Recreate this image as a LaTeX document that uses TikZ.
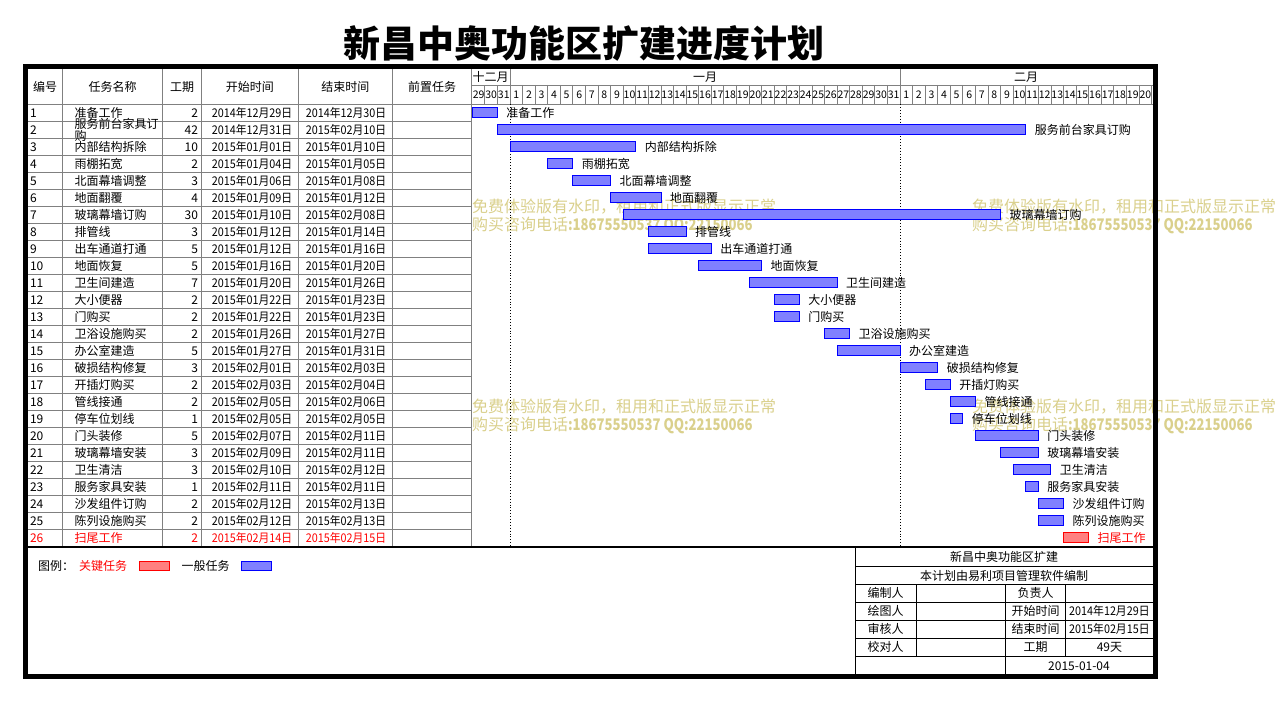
\documentclass[tikz,border=0pt]{standalone}
\usepackage{fontspec}
\setmainfont{Noto Sans CJK SC}
\definecolor{gridc}{RGB}{128,128,128}
\definecolor{wmc}{RGB}{218,208,140}
\newcommand\nrwtxt[1]{\scalebox{0.9}[1]{#1}}
\begin{document}
\begin{tikzpicture}[x=1pt,y=-1pt,
  every node/.style={inner sep=0pt,outer sep=0pt},
  cell/.style={font=\fontsize{12}{11}\selectfont},
  dayf/.style={font=\fontsize{10.5}{10.5}\selectfont},
  gridline/.style={draw=gridc,line width=0.9pt},
  blk/.style={draw=black,line width=1pt},
  wmk/.style={font=\fontsize{16}{16}\selectfont,text=wmc,anchor=west}]
\useasboundingbox[fill=white] (0,0) rectangle (1275,701);
% watermark
\foreach \wx/\wy [count=\wi] in {472/207,972/207,472/407,972/407}{
  \node[wmk] (wma\wi) at (\wx,\wy) {免费体验版有水印，租用和正式版显示正常};
  \node[wmk] (wmb\wi) at (\wx,\wy+18) {购买咨询电话\scalebox{0.82}[1]{\textbf{:18675550537 QQ:22150066}}};
}
% title
\node[font=\fontsize{37}{37}\selectfont\bfseries] (title) at (584,43) {新昌中奥功能区扩建进度计划};
% table grid
\foreach \k in {0,...,25}{
  \draw[gridline] (28,104.3+17*\k) -- (471.7,104.3+17*\k);
}
\foreach \cx in {62.3,162.7,201.3,298.3,392.3,471.7}{
  \draw[gridline] (\cx,69) -- (\cx,546.3);
}
% chart header grid
\draw[gridline] (471.7,85) -- (1153,85);
\draw[gridline] (471.7,104.3) -- (1153,104.3);
\foreach \k in {1,...,54}{
  \draw[gridline] (472.3+12.58*\k,85) -- (472.3+12.58*\k,104.3);
}
\draw[gridline] (510,69) -- (510,85);
\draw[gridline] (900,69) -- (900,85);
\draw[black,dotted,line width=0.9pt] (510,104.3) -- (510,546);
\draw[black,dotted,line width=0.9pt] (900,104.3) -- (900,546);
% header texts
\node[cell] (h1) at (45.2,86.7) {编号};
\node[cell] (h2) at (112.5,86.7) {任务名称};
\node[cell] (h3) at (182,86.7) {工期};
\node[cell] (h4) at (249.8,86.7) {开始时间};
\node[cell] (h5) at (345.3,86.7) {结束时间};
\node[cell] (h6) at (432,86.7) {前置任务};
\node[cell,anchor=west] (mdec) at (472.5,77) {十二月};
\node[cell] (mjan) at (705,77) {一月};
\node[cell] (mfeb) at (1026,77) {二月};
\foreach \k in {0,...,53}{
  \pgfmathtruncatemacro\dd{\k<3 ? 29+\k : (\k<34 ? \k-2 : \k-33)}
  \node[dayf] (day\k) at (472.3+12.58*\k+6.29,95) {\dd};
}
% rows
\foreach \rn/\rname/\rlab/\rdur/\rsd/\ren/\rst/\rcl/\rbc in {
1/准备工作/准备工作/2/2014年12月29日/2014年12月30日/0/black/blue,
2/{服务前台家具订\\购}/服务前台家具订购/42/2014年12月31日/2015年02月10日/2/black/blue,
3/内部结构拆除/内部结构拆除/10/2015年01月01日/2015年01月10日/3/black/blue,
4/雨棚拓宽/雨棚拓宽/2/2015年01月04日/2015年01月05日/6/black/blue,
5/北面幕墙调整/北面幕墙调整/3/2015年01月06日/2015年01月08日/8/black/blue,
6/地面翻覆/地面翻覆/4/2015年01月09日/2015年01月12日/11/black/blue,
7/玻璃幕墙订购/玻璃幕墙订购/30/2015年01月10日/2015年02月08日/12/black/blue,
8/排管线/排管线/3/2015年01月12日/2015年01月14日/14/black/blue,
9/出车通道打通/出车通道打通/5/2015年01月12日/2015年01月16日/14/black/blue,
10/地面恢复/地面恢复/5/2015年01月16日/2015年01月20日/18/black/blue,
11/卫生间建造/卫生间建造/7/2015年01月20日/2015年01月26日/22/black/blue,
12/大小便器/大小便器/2/2015年01月22日/2015年01月23日/24/black/blue,
13/门购买/门购买/2/2015年01月22日/2015年01月23日/24/black/blue,
14/卫浴设施购买/卫浴设施购买/2/2015年01月26日/2015年01月27日/28/black/blue,
15/办公室建造/办公室建造/5/2015年01月27日/2015年01月31日/29/black/blue,
16/破损结构修复/破损结构修复/3/2015年02月01日/2015年02月03日/34/black/blue,
17/开插灯购买/开插灯购买/2/2015年02月03日/2015年02月04日/36/black/blue,
18/管线接通/管线接通/2/2015年02月05日/2015年02月06日/38/black/blue,
19/停车位划线/停车位划线/1/2015年02月05日/2015年02月05日/38/black/blue,
20/门头装修/门头装修/5/2015年02月07日/2015年02月11日/40/black/blue,
21/玻璃幕墙安装/玻璃幕墙安装/3/2015年02月09日/2015年02月11日/42/black/blue,
22/卫生清洁/卫生清洁/3/2015年02月10日/2015年02月12日/43/black/blue,
23/服务家具安装/服务家具安装/1/2015年02月11日/2015年02月11日/44/black/blue,
24/沙发组件订购/沙发组件订购/2/2015年02月12日/2015年02月13日/45/black/blue,
25/陈列设施购买/陈列设施购买/2/2015年02月12日/2015年02月13日/45/black/blue,
26/扫尾工作/扫尾工作/2/2015年02月14日/2015年02月15日/47/red/red}{
  \pgfmathsetmacro\yc{112.8+17*(\rn-1)}
  \pgfmathsetmacro\xa{472.3+12.58*\rst}
  \node[cell,anchor=west,text=\rcl] (num\rn) at (30,\yc) {\rn};
  \node[cell,anchor=west,align=left,text=\rcl] (name\rn) at (74.5,\yc) {\rname};
  \node[cell,anchor=east,text=\rcl] (dur\rn) at (198,\yc) {\rdur};
  \node[cell,text=\rcl] (sd\rn) at (252,\yc) {\nrwtxt{\rsd}};
  \node[cell,text=\rcl] (ed\rn) at (346,\yc) {\nrwtxt{\ren}};
  \node[draw=\rbc,fill=\rbc!50,line width=1pt,anchor=west,
        minimum width={12.58pt*\rdur},minimum height=10pt] (bar\rn) at (\xa,\yc) {};
  \node[cell,anchor=west,text=\rcl] (lab\rn) at ([xshift=9pt]bar\rn.east) {\rlab};
}
% separator
\draw[black,line width=2pt] (28,547) -- (1153,547);
% legend
\node[cell,anchor=west] (lg0) at (38,566) {图例：};
\node[cell,anchor=west,text=red] (lg1) at (79,566) {关键任务};
\node[draw=red,fill=red!50,line width=1pt,anchor=west,minimum width=30pt,minimum height=9.7pt] (lgk) at (139,566) {};
\node[cell,anchor=west] (lg2) at (181.7,566) {一般任务};
\node[draw=blue,fill=blue!50,line width=1pt,anchor=west,minimum width=30pt,minimum height=9.7pt] (lgn) at (241,566) {};
% info block
\draw[blk] (855,547) -- (855,676);
\foreach \hy in {566.7,584.3,602.3,620.3,638.3,656.3}{
  \draw[blk] (855,\hy) -- (1153,\hy);
}
\draw[blk] (916,584.3) -- (916,656.3);
\draw[blk] (1065.7,584.3) -- (1065.7,656.3);
\draw[blk] (1005.7,584.3) -- (1005.7,676);
\node[cell] (ib1) at (1004,556.5) {新昌中奥功能区扩建};
\node[cell] (ib2) at (1004,575.5) {本计划由易利项目管理软件编制};
\node[cell] (ib3) at (885.5,593.3) {编制人};
\node[cell] (ib4) at (1035.7,593.3) {负责人};
\node[cell] (ib5) at (885.5,611.3) {绘图人};
\node[cell] (ib6) at (1035.7,611.3) {开始时间};
\node[cell] (ib7) at (1109.4,611.3) {\nrwtxt{2014年12月29日}};
\node[cell] (ib8) at (885.5,629.3) {审核人};
\node[cell] (ib9) at (1035.7,629.3) {结束时间};
\node[cell] (ib10) at (1109.4,629.3) {\nrwtxt{2015年02月15日}};
\node[cell] (ib11) at (885.5,647.3) {校对人};
\node[cell] (ib12) at (1035.7,647.3) {工期};
\node[cell] (ib13) at (1109.4,647.3) {49天};
\node[cell] (ib14) at (1079,666) {2015-01-04};
% outer border
\draw[black,line width=5pt] (25.6,66.7) rectangle (1155.3,676.8);
\end{tikzpicture}
\end{document}
